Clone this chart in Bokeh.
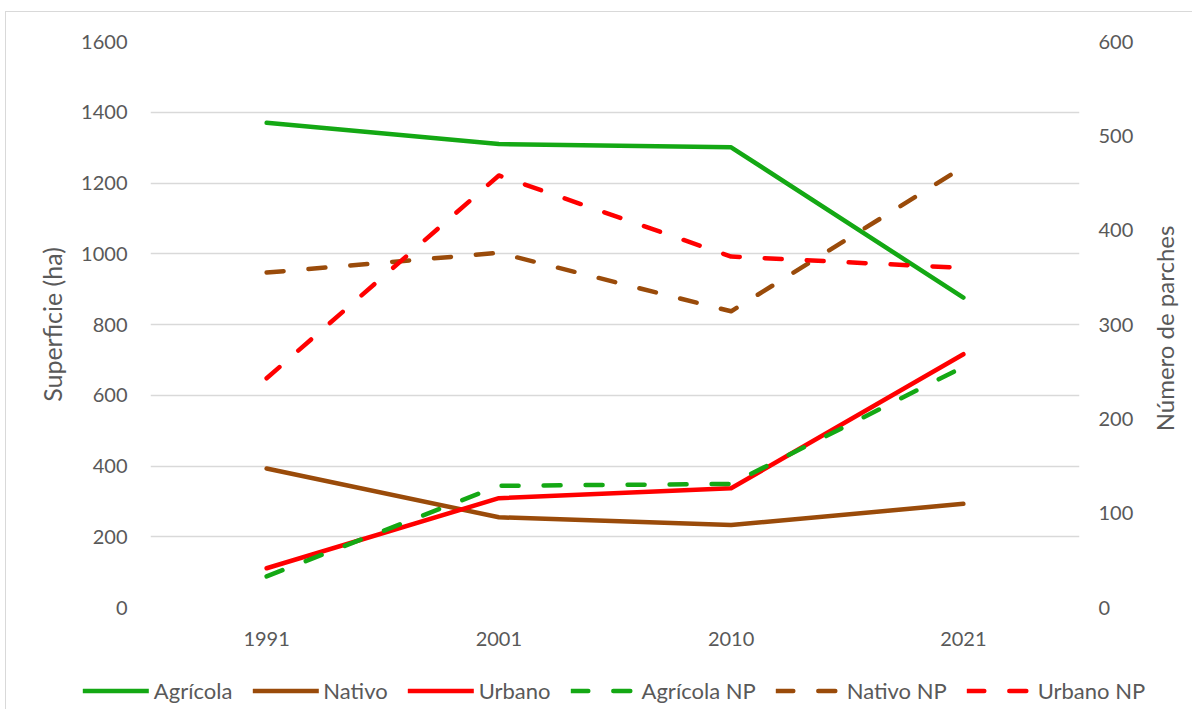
import math
from bokeh.plotting import figure
from bokeh.layouts import column, row
from bokeh.core.properties import value
from bokeh.models import FactorRange, Range1d, LinearAxis, FixedTicker, Legend, LegendItem
from bokeh.embed import file_html
from bokeh.resources import INLINE

years = ["1991", "2001", "2010", "2021"]
agricola = [1370, 1310, 1301, 876]
nativo = [393, 255, 233, 293]
urbano = [111, 309, 337, 716]
agricola_np = [33, 129, 131, 255]
nativo_np = [355, 376, 314, 467]
urbano_np = [243, 458, 372, 360]
left_ticks = [0, 200, 400, 600, 800, 1000, 1200, 1400, 1600]
right_ticks = [0, 100, 200, 300, 400, 500, 600]
series_names = ["Agrícola", "Nativo", "Urbano", "Agrícola NP", "Nativo NP", "Urbano NP"]
right_title = "Número de parches"

GREEN = "#14A814"
BROWN = "#9A4B0A"
RED = "#FF0000"
GREY = "#595959"
GRID = "#D9D9D9"
FONT = "Lato"
FS = "20px"
LW = 4.5
DASH = "17 25"

P_H = 647
p = figure(x_range=FactorRange(factors=years), y_range=Range1d(0, 1600),
           width=1130, height=P_H, output_backend="svg", toolbar_location=None,
           min_border_left=144, min_border_right=57, min_border_top=29,
           min_border_bottom=52)
p.extra_y_ranges = {"np": Range1d(0, 600)}
p.outline_line_color = None
p.xgrid.grid_line_color = None
p.ygrid.ticker = FixedTicker(ticks=left_ticks)
p.ygrid.grid_line_color = GRID
p.ygrid.grid_line_width = 1.5

p.yaxis.ticker = FixedTicker(ticks=left_ticks)
p.yaxis.axis_label = "Superficie (ha)"
p.yaxis.major_label_standoff = 17
p.yaxis.axis_label_standoff = 11

raxis = LinearAxis(y_range_name="np", ticker=FixedTicker(ticks=right_ticks))
raxis.major_label_standoff = 13
p.add_layout(raxis, "right")

p.xaxis.major_label_standoff = 18

for ax in [p.xaxis[0], p.yaxis[0], raxis]:
    ax.axis_line_color = None
    ax.major_tick_line_color = None
    ax.minor_tick_line_color = None
    ax.major_label_text_font = FONT
    ax.major_label_text_font_size = FS
    ax.major_label_text_color = GREY
    ax.axis_label_text_font = FONT
    ax.axis_label_text_font_size = "25px"
    ax.axis_label_text_font_style = "normal"
    ax.axis_label_text_color = GREY

styles = [
    dict(color=GREEN), dict(color=BROWN), dict(color=RED),
    dict(color=GREEN, line_dash=DASH), dict(color=BROWN, line_dash=DASH), dict(color=RED, line_dash=DASH),
]
data = [agricola, nativo, urbano, agricola_np, nativo_np, urbano_np]

for i, (vals, st) in enumerate(zip(data, styles)):
    kw = dict(line_width=LW, line_cap="round", line_join="round", **st)
    if i >= 3:
        kw["y_range_name"] = "np"
    p.line(years, vals, **kw)

# right-axis title (reads bottom-to-top, like the reference)
rf = figure(width=56, height=P_H, output_backend="svg", toolbar_location=None,
            x_range=Range1d(0, 1), y_range=Range1d(0, P_H),
            x_axis_location=None, y_axis_location=None,
            min_border_left=0, min_border_right=0, min_border_top=0, min_border_bottom=0)
rf.grid.grid_line_color = None
rf.outline_line_color = None
rf.text(x=[0.5], y=[P_H - 316], text=[right_title], angle=math.pi / 2,
        text_align="center", text_baseline="middle", text_font=value(FONT),
        text_font_size="24px", text_color=GREY)

# legend strip below the chart
lf = figure(width=1186, height=50, output_backend="svg", toolbar_location=None,
            x_range=Range1d(0, 1), y_range=Range1d(0, 1),
            x_axis_location=None, y_axis_location=None,
            min_border_left=32, min_border_right=2, min_border_top=12,
            min_border_bottom=0)
lf.grid.grid_line_color = None
lf.outline_line_color = None
items = []
for name, st in zip(series_names, styles):
    r = lf.line([5, 6], [5, 6], line_width=LW, line_cap="round", line_join="round", **st)
    items.append(LegendItem(label=name, renderers=[r]))

legend = Legend(items=items, orientation="horizontal", location="center")
legend.label_text_font = FONT
legend.label_text_font_size = "22px"
legend.label_text_color = GREY
legend.glyph_width = 66
legend.glyph_height = 24
legend.label_height = 24
legend.label_standoff = 5
legend.spacing = 20
legend.padding = 0
legend.margin = 0
legend.border_line_color = None
legend.background_fill_alpha = 0
lf.add_layout(legend, "center")

for f in (p, rf, lf):
    try:
        f.frame_align = False
    except Exception:
        pass

layout = column(row(p, rf, spacing=0), lf, spacing=0)
layout.styles = {"border-top": "1.5px solid #D9D9D9", "border-left": "1.5px solid #D9D9D9",
                 "margin-top": "11px", "margin-left": "5px"}
open("out.html", "w").write(file_html(layout, INLINE))
